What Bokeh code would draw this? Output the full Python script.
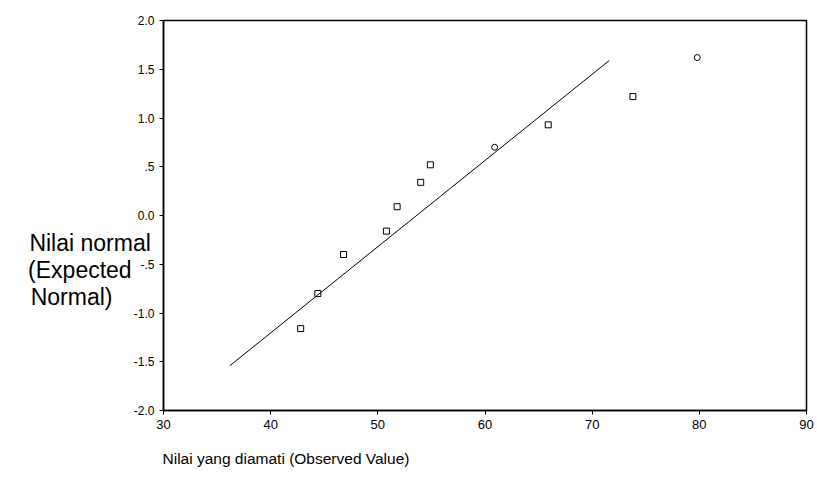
from bokeh.plotting import figure
from bokeh.models import Range1d, FixedTicker, Title, ColumnDataSource
from bokeh.embed import file_html
from bokeh.resources import INLINE

observed = [42.8, 44.4, 46.8, 50.8, 51.8, 54.0, 54.9, 60.9, 65.9, 73.8, 79.8]
expected = [-1.16, -0.80, -0.40, -0.16, 0.09, 0.34, 0.52, 0.70, 0.93, 1.22, 1.62]
markers = ["square", "square", "square", "square", "square", "square", "square",
           "circle", "square", "square", "circle"]

# Reference line end points
line_x = [36.2, 71.6]
line_y = [-1.54, 1.59]

x_ticks = [30, 40, 50, 60, 70, 80, 90]
y_ticks = [-2.0, -1.5, -1.0, -0.5, 0.0, 0.5, 1.0, 1.5, 2.0]
y_tick_labels = ["-2.0", "-1.5", "-1.0", "-.5", "0.0", ".5", "1.0", "1.5", "2.0"]

x_title = "Nilai yang diamati (Observed Value)"
y_title_lines = ["Nilai normal", "(Expected", "Normal)"]

FONT = "Liberation Sans"
NB = "\u00a0"

p = figure(width=817, height=499, output_backend="svg", toolbar_location=None,
           x_range=Range1d(30, 90), y_range=Range1d(-2, 2),
           min_border_left=163, min_border_right=11, min_border_top=20,
           min_border_bottom=89)
p.grid.visible = False
p.outline_line_color = "black"
p.outline_line_width = 1.5
p.background_fill_color = "white"

p.xaxis.ticker = FixedTicker(ticks=x_ticks)
p.yaxis.ticker = FixedTicker(ticks=y_ticks)
p.yaxis.major_label_overrides = {t: l for t, l in zip(y_ticks, y_tick_labels)}
p.xaxis.major_label_overrides = {t: str(t) for t in x_ticks}
for ax in (p.xaxis, p.yaxis):
    ax.minor_tick_line_color = None
    ax.major_tick_in = 0
    ax.major_tick_out = 4
    ax.axis_line_color = "black"
    ax.axis_line_width = 1.5
    ax.major_tick_line_color = "black"
    ax.major_label_text_font = FONT
    ax.major_label_text_color = "black"
    ax.major_label_standoff = 5
p.xaxis.major_label_text_font_size = "13px"
p.yaxis.major_label_text_font_size = "12px"

# Multi-line horizontal y title; blank lead lines push it below centre,
# no-break spaces pad the shorter lines so they line up on the left
padded = [y_title_lines[0], y_title_lines[1] + NB * 3, y_title_lines[2] + NB * 6]
p.yaxis.axis_label = "\n" * 4 + "\n".join(padded)
p.yaxis.axis_label_orientation = "horizontal"
p.yaxis.axis_label_text_font = FONT
p.yaxis.axis_label_text_font_size = "23px"
p.yaxis.axis_label_text_font_style = "normal"
p.yaxis.axis_label_text_color = "black"
p.yaxis.axis_label_text_line_height = 1.05
p.yaxis.axis_label_standoff = -20

p.line(line_x, line_y, line_color="black", line_width=1)

src = ColumnDataSource(dict(x=observed, y=expected, m=markers))
p.scatter("x", "y", source=src, marker="m", size=6, fill_color=None,
          line_color="black", line_width=1)

p.add_layout(Title(text=x_title, align="left", offset=-1, standoff=32,
                   text_font=FONT, text_font_size="15.5px",
                   text_font_style="normal", text_color="black"), "below")

open("out.html", "w").write(file_html(p, INLINE))
